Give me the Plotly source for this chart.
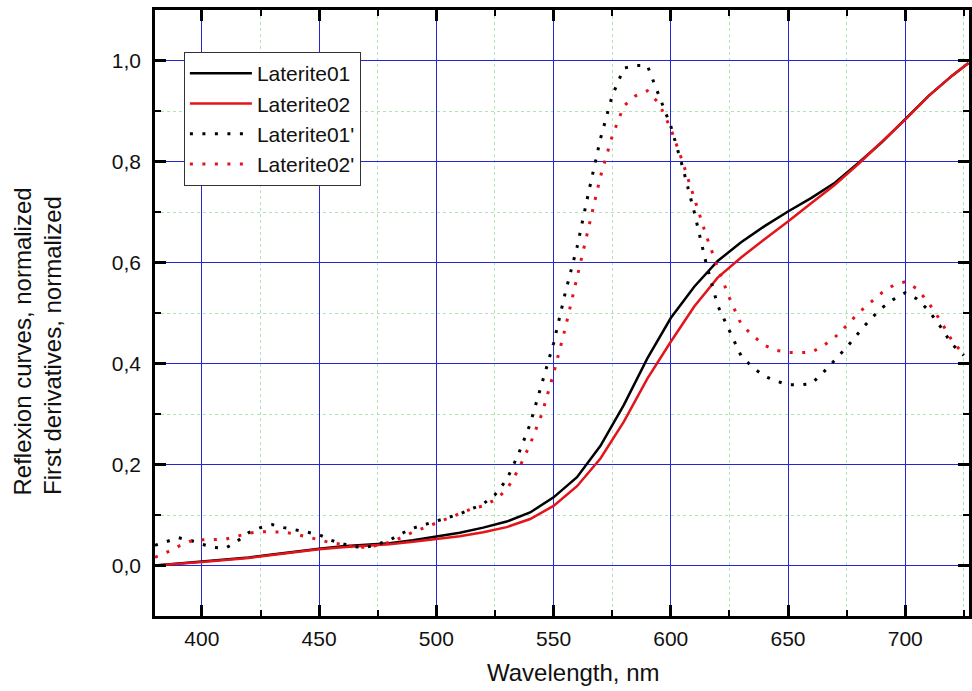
import plotly.graph_objects as go

# Reflexion curves (10 nm steps)
wl_refl = [380, 390, 400, 410, 420, 430, 440, 450, 460, 470, 480, 490, 500, 510, 520, 530,
           540, 550, 560, 570, 580, 590, 600, 610, 620, 630, 640, 650, 660, 670, 680, 690,
           700, 710, 720, 727]
laterite01 = [0.0, 0.004, 0.008, 0.012, 0.016, 0.022, 0.028, 0.033, 0.038, 0.041, 0.044, 0.050,
              0.057, 0.065, 0.075, 0.087, 0.105, 0.135, 0.175, 0.237, 0.318, 0.410, 0.490, 0.552,
              0.603, 0.640, 0.672, 0.701, 0.728, 0.758, 0.797, 0.838, 0.884, 0.930, 0.970, 0.995]
laterite02 = [0.0, 0.003, 0.007, 0.011, 0.015, 0.021, 0.027, 0.032, 0.036, 0.039, 0.042, 0.047,
              0.052, 0.058, 0.066, 0.076, 0.092, 0.118, 0.157, 0.212, 0.285, 0.370, 0.443, 0.513,
              0.570, 0.610, 0.646, 0.681, 0.718, 0.754, 0.795, 0.838, 0.883, 0.930, 0.970, 0.995]

# First derivatives (5 nm steps)
wl_deriv = [380, 385, 390, 395, 400, 405, 410, 415, 420, 425, 430, 435, 440, 445, 450, 455,
            460, 465, 470, 475, 480, 485, 490, 495, 500, 505, 510, 515, 520, 525, 530, 535,
            540, 545, 550, 555, 560, 565, 570, 575, 580, 585, 590, 595, 600, 605, 610, 615,
            620, 625, 630, 635, 640, 645, 650, 655, 660, 665, 670, 675, 680, 685, 690, 695,
            700, 705, 710, 715, 720, 725]
laterite01_d = [0.040, 0.048, 0.055, 0.050, 0.042, 0.036, 0.034, 0.048, 0.065, 0.075, 0.081, 0.075,
                0.071, 0.066, 0.061, 0.050, 0.043, 0.037, 0.036, 0.042, 0.050, 0.063, 0.074, 0.081,
                0.088, 0.094, 0.102, 0.112, 0.122, 0.140, 0.170, 0.220, 0.280, 0.360, 0.440, 0.540,
                0.630, 0.740, 0.845, 0.930, 0.985, 0.990, 0.990, 0.930, 0.870, 0.790, 0.700, 0.600,
                0.515, 0.465, 0.415, 0.392, 0.375, 0.365, 0.358, 0.358, 0.360, 0.382, 0.407, 0.432,
                0.460, 0.487, 0.510, 0.527, 0.540, 0.528, 0.505, 0.473, 0.438, 0.416]
laterite02_d = [0.016, 0.026, 0.038, 0.048, 0.051, 0.051, 0.052, 0.058, 0.064, 0.067, 0.067, 0.066,
                0.062, 0.057, 0.051, 0.045, 0.042, 0.036, 0.036, 0.040, 0.046, 0.055, 0.066, 0.075,
                0.084, 0.093, 0.102, 0.112, 0.118, 0.130, 0.150, 0.190, 0.240, 0.300, 0.380, 0.470,
                0.570, 0.670, 0.770, 0.850, 0.910, 0.930, 0.940, 0.915, 0.865, 0.800, 0.725, 0.655,
                0.590, 0.530, 0.478, 0.455, 0.436, 0.426, 0.422, 0.422, 0.422, 0.435, 0.452, 0.475,
                0.500, 0.520, 0.540, 0.555, 0.562, 0.548, 0.520, 0.485, 0.445, 0.418]

x_tickvals = [400, 450, 500, 550, 600, 650, 700]
y_tickvals = [0.0, 0.2, 0.4, 0.6, 0.8, 1.0]

RED = "#e4141b"
FONT = "Liberation Sans, Arial, sans-serif"

fig = go.Figure()
fig.add_trace(go.Scatter(x=wl_refl, y=laterite01, mode="lines", name="Laterite01",
                         line=dict(color="black", width=2.5)))
fig.add_trace(go.Scatter(x=wl_refl, y=laterite02, mode="lines", name="Laterite02",
                         line=dict(color=RED, width=2.5)))
fig.add_trace(go.Scatter(x=wl_deriv, y=laterite01_d, mode="lines", name="Laterite01'",
                         line=dict(color="black", width=3, dash="3px,9.5px")))
fig.add_trace(go.Scatter(x=wl_deriv, y=laterite02_d, mode="lines", name="Laterite02'",
                         line=dict(color=RED, width=3, dash="3px,9.5px")))

axis_common = dict(
    showline=True, linecolor="black", linewidth=2.5, mirror="ticks",
    ticks="inside", ticklen=11, tickwidth=2.5, tickcolor="black",
    showgrid=True, gridcolor="#2626d4", gridwidth=1.2, zeroline=False,
    tickfont=dict(family=FONT, size=21, color="#111111"),
)

fig.update_xaxes(
    range=[380, 727.2], tickvals=x_tickvals, ticklabelstandoff=2,
    minor=dict(dtick=25, tick0=375, ticks="inside", ticklen=6, tickwidth=2, tickcolor="black",
               showgrid=True, gridcolor="#b4e2b4", griddash="dot", gridwidth=1),
    **axis_common,
)
fig.update_yaxes(
    range=[-0.1, 1.1], tickvals=y_tickvals, tickformat=".1f", ticklabelstandoff=7,
    minor=dict(dtick=0.1, tick0=-0.1, ticks="inside", ticklen=6, tickwidth=2, tickcolor="black",
               showgrid=True, gridcolor="#b4e2b4", griddash="dot", gridwidth=1),
    **axis_common,
)

fig.update_layout(
    width=972, height=691,
    margin=dict(l=155, r=0, t=10, b=75),
    paper_bgcolor="white", plot_bgcolor="white",
    separators=", ",
    font=dict(family=FONT, color="#111111"),
    showlegend=True,
    legend=dict(x=0.0355, y=0.9307, xanchor="left", yanchor="top",
                bgcolor="white", bordercolor="#333333", borderwidth=1,
                font=dict(family=FONT, size=21, color="#111111"),
                tracegroupgap=0, itemwidth=62),
    annotations=[
        dict(text="Wavelength, nm", xref="paper", yref="paper",
             x=(575 - 155) / 817, y=(616 - 672) / 606, xanchor="center", yanchor="middle",
             showarrow=False, font=dict(family=FONT, size=24, color="#111111")),
        dict(text="Reflexion curves, normalized", xref="paper", yref="paper",
             x=(22 - 155) / 817, y=(616 - 497) / 606, xanchor="center", yanchor="bottom",
             textangle=-90, showarrow=False, font=dict(family=FONT, size=24, color="#111111")),
        dict(text="First derivatives, normalized", xref="paper", yref="paper",
             x=(52 - 155) / 817, y=(616 - 497) / 606, xanchor="center", yanchor="bottom",
             textangle=-90, showarrow=False, font=dict(family=FONT, size=24, color="#111111")),
    ],
)

fig.write_html("out.html")
